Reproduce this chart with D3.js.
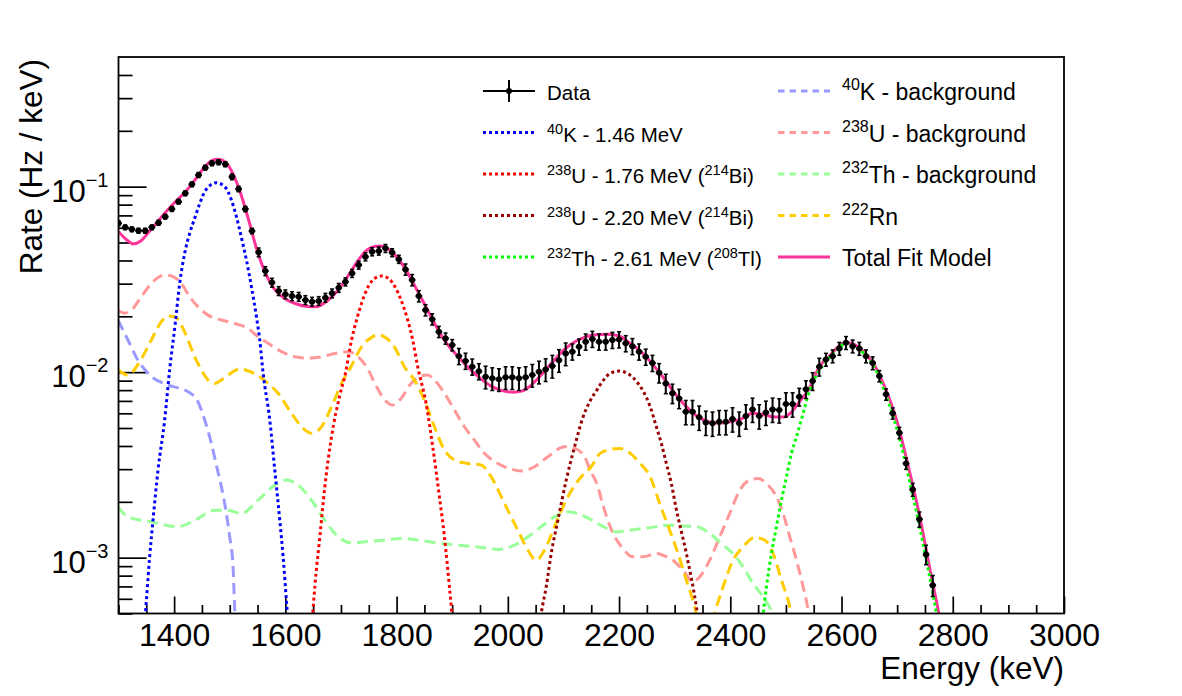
<!DOCTYPE html>
<html>
<head>
<meta charset="utf-8">
<script src="https://cdn.jsdelivr.net/npm/d3@7"></script>
<style>
  body { margin: 0; background: #fff; }
  text { font-family: "Liberation Sans", Arial, Helvetica, sans-serif; fill: #000; }
</style>
</head>
<body>
<svg id="chart" width="1182" height="696"></svg>
<script>
// ---- data ----
const energy = [1300,1312,1324,1336,1348,1360,1372,1384,1396,1408,1420,1432,1444,1456,1468,1480,1492,1504,1516,1528,1540,1552,1564,1576,1588,1600,1612,1624,1636,1648,1660,1672,1684,1696,1708,1720,1732,1744,1756,1768,1780,1792,1804,1816,1828,1840,1852,1864,1876,1888,1900,1912,1924,1936,1948,1960,1972,1984,1996,2008,2020,2032,2044,2056,2068,2080,2092,2104,2116,2128,2140,2152,2164,2176,2188,2200,2212,2224,2236,2248,2260,2272,2284,2296,2308,2320,2332,2344,2356,2368,2380,2392,2404,2416,2428,2440,2452,2464,2476,2488,2500,2512,2524,2536,2548,2560,2572,2584,2596,2608,2620,2632,2644,2656,2668,2680,2692,2704,2716,2728,2740,2752,2764];
const rate = [0.0635,0.0604,0.0589,0.0579,0.0579,0.0604,0.0639,0.0689,0.0758,0.083,0.0921,0.103,0.1156,0.1266,0.1337,0.1354,0.1321,0.113,0.0972,0.0758,0.0577,0.0443,0.0351,0.0304,0.0274,0.0263,0.0257,0.0255,0.0245,0.0240,0.0242,0.0252,0.0266,0.0285,0.0307,0.0341,0.0378,0.0419,0.0446,0.0450,0.0465,0.0441,0.0406,0.0358,0.0314,0.0257,0.0216,0.0193,0.0165,0.0152,0.0140,0.0122,0.0115,0.0107,0.0101,0.00945,0.00926,0.00915,0.00938,0.00938,0.00926,0.00938,0.00965,0.01005,0.01035,0.0108,0.0116,0.0126,0.0129,0.0137,0.0146,0.0151,0.0146,0.0146,0.0149,0.0150,0.0143,0.0138,0.0129,0.0121,0.0112,0.00993,0.0087,0.00769,0.00722,0.00612,0.00612,0.00571,0.00536,0.0053,0.0054,0.0054,0.00559,0.0053,0.0058,0.0063,0.0058,0.00607,0.0063,0.00625,0.00673,0.00673,0.00737,0.0081,0.00895,0.0107,0.0117,0.0122,0.0134,0.0144,0.0138,0.0134,0.0122,0.0112,0.00953,0.00759,0.0060,0.00471,0.00322,0.00233,0.00161,0.00104,0.00071];
const rateRelErr = [0.03,0.03,0.03,0.03,0.03,0.03,0.03,0.03,0.03,0.03,0.03,0.03,0.03,0.03,0.03,0.03,0.03,0.035,0.035,0.035,0.035,0.055,0.055,0.055,0.055,0.055,0.055,0.055,0.055,0.055,0.055,0.055,0.055,0.055,0.05,0.05,0.05,0.05,0.05,0.05,0.05,0.05,0.05,0.07,0.07,0.07,0.07,0.07,0.07,0.07,0.07,0.10,0.10,0.10,0.10,0.14,0.14,0.14,0.14,0.14,0.14,0.14,0.14,0.14,0.14,0.14,0.14,0.14,0.10,0.10,0.10,0.10,0.10,0.10,0.10,0.10,0.10,0.10,0.10,0.10,0.10,0.12,0.12,0.12,0.12,0.15,0.15,0.15,0.15,0.15,0.15,0.15,0.15,0.15,0.15,0.15,0.15,0.15,0.15,0.15,0.15,0.15,0.11,0.11,0.11,0.11,0.08,0.08,0.08,0.08,0.08,0.08,0.08,0.08,0.07,0.07,0.07,0.07,0.07,0.08,0.095,0.12,0.13];

const totalE = [1300,1315,1326,1340,1355,1370,1385,1400,1420,1440,1455,1470,1480,1492,1505,1520,1535,1550,1565,1580,1600,1620,1640,1655,1670,1685,1700,1715,1730,1745,1760,1770,1785,1800,1815,1830,1850,1870,1890,1910,1930,1950,1970,1990,2010,2025,2040,2060,2080,2100,2120,2140,2160,2180,2200,2220,2240,2260,2280,2300,2320,2340,2360,2380,2400,2420,2440,2460,2480,2495,2510,2525,2540,2560,2580,2600,2610,2625,2640,2660,2680,2700,2720,2740,2760,2775,2790];
const totalV = [0.0572,0.0516,0.0491,0.0509,0.0572,0.0645,0.0730,0.0817,0.0936,0.1114,0.1277,0.1393,0.1405,0.1359,0.1186,0.0913,0.0645,0.0444,0.0338,0.0281,0.0248,0.0233,0.0226,0.0225,0.0236,0.0257,0.0291,0.0338,0.0397,0.0450,0.0476,0.0479,0.0461,0.0418,0.0364,0.0302,0.0233,0.0179,0.0143,0.0122,0.0105,0.0093,0.00841,0.00795,0.0078,0.0079,0.00841,0.00965,0.0113,0.0131,0.01453,0.0155,0.0159,0.0160,0.01566,0.0143,0.01284,0.01105,0.0093,0.00771,0.00656,0.0058,0.00541,0.00531,0.0054,0.0056,0.0060,0.0059,0.00573,0.00573,0.00609,0.00698,0.0080,0.01065,0.01237,0.01418,0.0144,0.0140,0.01284,0.0108,0.0080,0.0054,0.00311,0.0017,0.000835,0.000502,0.0003];

const k40PeakE = [1344,1350,1356,1362,1371,1383,1392,1402,1410,1419,1428,1438,1446,1456,1476,1491,1503,1512,1522,1530,1539,1548,1554,1560,1572,1581,1590,1596,1602,1608];
const k40PeakV = [0.00033,0.00058,0.00101,0.00159,0.00296,0.00552,0.0103,0.0183,0.0301,0.0437,0.0561,0.0689,0.081,0.095,0.105,0.100,0.0848,0.0689,0.0516,0.0402,0.0289,0.0199,0.0149,0.0099,0.00552,0.00296,0.00159,0.00101,0.00058,0.00033];

const u238PeakE = [1644,1653,1662,1671,1683,1698,1708,1719,1728,1737,1749,1761,1773,1785,1797,1808,1820,1829,1838,1853,1865,1877,1886,1895,1906];
const u238PeakV = [0.0003,0.000696,0.001295,0.00241,0.00448,0.00752,0.00985,0.0149,0.0191,0.0235,0.0289,0.0321,0.0330,0.0321,0.0289,0.0245,0.0191,0.0149,0.0107,0.00679,0.00396,0.00213,0.001295,0.000696,0.0003];

const u2200PeakE = [2052,2060,2069,2078,2090,2105,2120,2135,2148,2160,2172,2184,2200,2217,2232,2244,2256,2267,2276,2285,2294,2302,2321,2339,2348];
const u2200PeakV = [0.00033,0.0005,0.000696,0.001053,0.00159,0.00262,0.00396,0.0057,0.0070,0.0080,0.00907,0.00985,0.01014,0.00977,0.00887,0.00784,0.00651,0.00508,0.00413,0.00322,0.00251,0.00188,0.001053,0.000543,0.00035];

const th232PeakE = [2452,2459,2465,2474,2483,2492,2501,2510,2519,2531,2543,2555,2567,2585,2609,2633,2657,2681,2705,2726,2738,2750,2762,2771,2780];
const th232PeakV = [0.00035,0.0005,0.000696,0.001053,0.00147,0.00204,0.00273,0.00365,0.00448,0.0060,0.0080,0.00965,0.01092,0.01263,0.0143,0.01316,0.01092,0.00737,0.0043,0.00231,0.00159,0.001053,0.000696,0.00049,0.00032];

const k40BkgE = [1299,1317,1335,1353,1389,1410,1425,1443,1455,1467,1476,1485,1493,1500,1506,1509,1514];
const k40BkgV = [0.0191,0.0149,0.0116,0.00985,0.00852,0.00818,0.00785,0.00692,0.00552,0.00413,0.00315,0.00241,0.0018,0.001295,0.000892,0.00052,0.0003];

const u238BkgE = [1299,1311,1323,1341,1359,1383,1398,1413,1428,1443,1461,1485,1509,1533,1551,1569,1593,1617,1641,1665,1689,1713,1731,1749,1761,1779,1793,1808,1826,1841,1856,1868,1886,1904,1922,1940,1958,1982,2006,2024,2048,2072,2102,2120,2138,2148,2160,2172,2184,2196,2207,2225,2243,2268,2279,2297,2315,2333,2345,2363,2381,2399,2417,2435,2450,2465,2483,2495,2507,2519,2531,2540,2548];
const u238BkgV = [0.0216,0.0208,0.0216,0.0255,0.0301,0.0334,0.0327,0.0301,0.0255,0.0225,0.0203,0.0191,0.0183,0.0172,0.0155,0.0143,0.0129,0.0121,0.0119,0.0121,0.0126,0.0129,0.0121,0.0103,0.0087,0.00707,0.00665,0.00722,0.0087,0.00945,0.00965,0.00907,0.00769,0.00625,0.00508,0.0043,0.00365,0.00322,0.0030,0.00293,0.00309,0.0035,0.00396,0.00388,0.0035,0.00296,0.00251,0.00188,0.00147,0.001243,0.00112,0.00101,0.00101,0.001053,0.00103,0.000969,0.000856,0.000741,0.000788,0.000969,0.001295,0.00173,0.00231,0.00262,0.00267,0.00251,0.00213,0.00173,0.001295,0.000969,0.000696,0.00052,0.00035];

const th232BkgE = [1299,1317,1359,1407,1437,1473,1497,1521,1551,1581,1602,1623,1647,1671,1695,1719,1743,1778,1808,1838,1874,1910,1946,1982,2012,2036,2060,2084,2108,2126,2150,2172,2196,2220,2244,2267,2291,2315,2339,2363,2387,2405,2423,2441,2459,2474,2485];
const th232BkgV = [0.00188,0.00166,0.00156,0.00147,0.00159,0.0018,0.0018,0.00173,0.00204,0.00246,0.00262,0.00246,0.00204,0.00159,0.001295,0.0012,0.001217,0.001243,0.00127,0.001243,0.0012,0.001168,0.001143,0.001107,0.001168,0.001295,0.00147,0.00166,0.00177,0.00173,0.0016,0.00147,0.001377,0.001406,0.001437,0.00147,0.001497,0.00148,0.00147,0.00135,0.001168,0.001053,0.000892,0.000726,0.000615,0.00052,0.00045];

const rn222E = [1299,1317,1335,1359,1377,1389,1401,1413,1425,1437,1449,1461,1473,1485,1497,1518,1545,1569,1587,1611,1632,1647,1665,1683,1701,1718,1737,1755,1767,1778,1796,1814,1832,1850,1868,1886,1904,1928,1952,1970,1994,2018,2036,2051,2066,2084,2108,2132,2150,2166,2184,2201,2220,2238,2256,2273,2291,2306,2321,2336,2346,2356,2364,2372,2387,2405,2423,2444,2462,2477,2492,2507,2516];
const rn222V = [0.0103,0.00965,0.011,0.0149,0.0187,0.0201,0.0199,0.0179,0.0149,0.0121,0.0103,0.00907,0.0087,0.00907,0.00965,0.0104,0.0098,0.0087,0.00769,0.0060,0.00498,0.00468,0.00508,0.00651,0.0087,0.0107,0.0137,0.0154,0.0159,0.0155,0.0137,0.0107,0.00907,0.00707,0.00508,0.0038,0.00336,0.00322,0.00316,0.00273,0.00196,0.001406,0.001098,0.000969,0.001098,0.00147,0.00213,0.00273,0.00309,0.00365,0.00383,0.00388,0.00365,0.00322,0.00273,0.00196,0.001406,0.001053,0.000756,0.000543,0.0004,0.00033,0.0004,0.0005,0.000696,0.000969,0.001143,0.001285,0.001243,0.001053,0.000756,0.000543,0.0004];

const xTickValues = [1400,1600,1800,2000,2200,2400,2600,2800,3000];
const yTickValues = [1e-3, 1e-2, 1e-1];
const yTickLabels = ["10^{\u22123}", "10^{\u22122}", "10^{\u22121}"];

// ---- layout ----
const svg = d3.select("#chart");
const frame = {left: 118.5, right: 1064, top: 57, bottom: 613.5};

const x = d3.scaleLinear().domain([1300, 3000]).range([frame.left, frame.right]);
const y = d3.scaleLog().domain([5e-4, 0.5]).range([frame.bottom, frame.top]);

svg.append("defs").append("clipPath").attr("id", "plotClip")
  .append("rect")
  .attr("x", frame.left).attr("y", frame.top)
  .attr("width", frame.right - frame.left).attr("height", frame.bottom - frame.top);

// writes "^{..}" pieces as raised tspans
function richText(sel, str, size, supSize, shift) {
  const parts = str.split(/(\^\{[^}]*\})/).filter(s => s.length);
  let up = false;
  parts.forEach(p => {
    if (p.startsWith("^{")) {
      sel.append("tspan").attr("font-size", supSize).attr("dy", up ? 0 : -shift).text(p.slice(2, -1));
      up = true;
    } else {
      sel.append("tspan").attr("font-size", size).attr("dy", up ? shift : 0).text(p);
      up = false;
    }
  });
}

// axes: ticks inward
const xMinor = d3.range(1300, 3001, 50).filter(v => v % 200 !== 0);
svg.append("g").attr("transform", "translate(0," + frame.bottom + ")")
  .call(d3.axisBottom(x).tickValues(xMinor).tickSize(-8.5).tickFormat(""))
  .call(g => g.select(".domain").remove());
const xAxis = svg.append("g").attr("transform", "translate(0," + frame.bottom + ")")
  .call(d3.axisBottom(x).tickValues(xTickValues).tickSize(-17).tickPadding(9.5).tickFormat(d3.format("d")))
  .call(g => g.select(".domain").remove());
xAxis.selectAll("text")
  .attr("font-size", 32).attr("font-family", "Liberation Sans, Arial, Helvetica, sans-serif");

const yMinor = [];
[-4, -3, -2, -1].forEach(k => {
  for (let m = 2; m <= 9; m++) {
    const v = m * Math.pow(10, k);
    if (v >= 5e-4 && v < 0.5) yMinor.push(v);
  }
});
svg.append("g").attr("transform", "translate(" + frame.left + ",0)")
  .call(d3.axisLeft(y).tickValues(yMinor).tickSize(-14).tickFormat(""))
  .call(g => g.select(".domain").remove());
svg.append("g").attr("transform", "translate(" + frame.left + ",0)")
  .call(d3.axisLeft(y).tickValues(yTickValues).tickSize(-28).tickFormat(""))
  .call(g => g.select(".domain").remove());

svg.selectAll(".tick line").attr("stroke", "#000").attr("stroke-width", 1.7);

yTickValues.forEach((v, i) => {
  const t = svg.append("text")
    .attr("x", 108.5).attr("y", y(v) + 15)
    .attr("text-anchor", "end");
  richText(t, yTickLabels[i], 31, 20, 15);
});

// axis titles
svg.append("text")
  .attr("x", frame.right).attr("y", 678.5)
  .attr("text-anchor", "end").attr("font-size", 31.5)
  .text("Energy (keV)");
svg.append("text")
  .attr("transform", "translate(42," + (frame.top + 2) + ") rotate(-90)")
  .attr("text-anchor", "end").attr("font-size", 31.5)
  .text("Rate (Hz / keV)");

// ---- curves ----
const line = d3.line()
  .x(d => x(d[0]))
  .y(d => y(Math.max(d[1], 1e-5)))
  .curve(d3.curveMonotoneX);

const plot = svg.append("g").attr("clip-path", "url(#plotClip)");

const DOT = "3,3", DASH = "11,6";
const curves = [
  {e: totalE, v: totalV, color: "#ff3399", dash: null, label: "Total Fit Model"},
  {e: k40BkgE, v: k40BkgV, color: "#9999ff", dash: DASH, label: "^{40}K - background"},
  {e: u238BkgE, v: u238BkgV, color: "#ff9999", dash: DASH, label: "^{238}U - background"},
  {e: th232BkgE, v: th232BkgV, color: "#99ff99", dash: DASH, label: "^{232}Th - background"},
  {e: rn222E, v: rn222V, color: "#ffcc00", dash: DASH, label: "^{222}Rn"},
  {e: k40PeakE, v: k40PeakV, color: "#0000ff", dash: DOT, label: "^{40}K - 1.46 MeV"},
  {e: u238PeakE, v: u238PeakV, color: "#ff0000", dash: DOT, label: "^{238}U - 1.76 MeV (^{214}Bi)"},
  {e: u2200PeakE, v: u2200PeakV, color: "#990000", dash: DOT, label: "^{238}U - 2.20 MeV (^{214}Bi)"},
  {e: th232PeakE, v: th232PeakV, color: "#00ff00", dash: DOT, label: "^{232}Th - 2.61 MeV (^{208}Tl)"}
];

curves.forEach(c => {
  plot.append("path")
    .datum(c.e.map((e, i) => [e, c.v[i]]))
    .attr("d", line)
    .attr("fill", "none")
    .attr("stroke", c.color)
    .attr("stroke-width", 3)
    .attr("stroke-dasharray", c.dash);
});

// data points with error bars
const pts = energy.map((e, i) => ({e: e, v: rate[i], err: rate[i] * rateRelErr[i]}));
const dataG = plot.append("g").attr("stroke", "#000").attr("stroke-width", 2);
const pg = dataG.selectAll("g.pt").data(pts).enter().append("g").attr("class", "pt");
pg.append("line")
  .attr("x1", d => x(d.e)).attr("x2", d => x(d.e))
  .attr("y1", d => y(d.v - d.err)).attr("y2", d => y(d.v + d.err));
pg.append("line")
  .attr("x1", d => x(d.e - 6)).attr("x2", d => x(d.e + 6))
  .attr("y1", d => y(d.v)).attr("y2", d => y(d.v));
pg.append("line").attr("stroke-width", 1.5)
  .attr("x1", d => x(d.e) - 2).attr("x2", d => x(d.e) + 2)
  .attr("y1", d => y(d.v - d.err)).attr("y2", d => y(d.v - d.err));
pg.append("line").attr("stroke-width", 1.5)
  .attr("x1", d => x(d.e) - 2).attr("x2", d => x(d.e) + 2)
  .attr("y1", d => y(d.v + d.err)).attr("y2", d => y(d.v + d.err));
pg.append("circle")
  .attr("cx", d => x(d.e)).attr("cy", d => y(d.v))
  .attr("r", 3).attr("fill", "#000").attr("stroke", "none");

// frame
svg.append("rect")
  .attr("x", frame.left).attr("y", frame.top)
  .attr("width", frame.right - frame.left).attr("height", frame.bottom - frame.top)
  .attr("fill", "none").attr("stroke", "#000").attr("stroke-width", 1.8);

// ---- legend (two columns, own text size each) ----
const rowsY = [91, 132.5, 174, 215.5, 257];
const legendCols = [
  {x0: 483, x1: 535, tx: 547, size: 20.5, sup: 14.5, shift: 8, items: [null, curves[5], curves[6], curves[7], curves[8]]},
  {x0: 778, x1: 830, tx: 842, size: 23, sup: 16, shift: 10, items: [curves[1], curves[2], curves[3], curves[4], curves[0]]}
];
const legend = svg.append("g");
legendCols.forEach(col => {
  col.items.forEach((c, i) => {
    const yy = rowsY[i];
    const t = legend.append("text").attr("x", col.tx).attr("y", yy + 9);
    if (c === null) {
      const xm = (col.x0 + col.x1) / 2;
      legend.append("line").attr("x1", col.x0).attr("x2", col.x1).attr("y1", yy).attr("y2", yy)
        .attr("stroke", "#000").attr("stroke-width", 2);
      legend.append("line").attr("x1", xm).attr("x2", xm).attr("y1", yy - 11).attr("y2", yy + 11)
        .attr("stroke", "#000").attr("stroke-width", 2);
      legend.append("circle").attr("cx", xm).attr("cy", yy).attr("r", 3).attr("fill", "#000");
      richText(t, "Data", col.size, col.sup, col.shift);
    } else {
      legend.append("line").attr("x1", col.x0).attr("x2", col.x1).attr("y1", yy).attr("y2", yy)
        .attr("stroke", c.color).attr("stroke-width", 3)
        .attr("stroke-dasharray", c.dash === DASH ? "6.5,5" : c.dash);
      richText(t, c.label, col.size, col.sup, col.shift);
    }
  });
});
</script>
</body>
</html>
